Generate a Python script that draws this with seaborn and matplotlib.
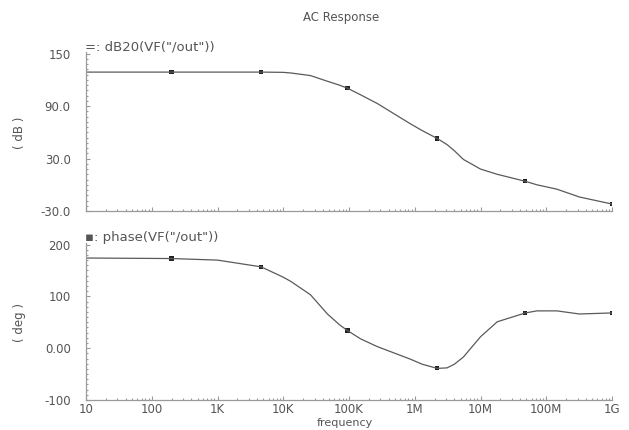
import numpy as np
import pandas as pd
import matplotlib
matplotlib.use('Agg')
import matplotlib.pyplot as plt
import matplotlib.ticker as mticker
import seaborn as sns

# values
freq = [10, 200, 1e3, 4.6e3, 1e4, 1.3e4, 2.6e4, 4.7e4, 7.2e4, 9.5e4, 1.5e5, 2.7e5,
        8.5e5, 1.3e6, 2.2e6, 3.1e6, 4e6, 5.5e6, 1e7, 1.8e7, 4.8e7, 7.2e7, 1.45e8,
        3.2e8, 1e9]
gain_db = [129, 129, 129, 129, 128.7, 128, 125, 118.5, 114, 110.5, 103, 93,
           70, 62, 53, 46, 39, 29, 18, 12, 4, 0, -5, -14, -22]
phase_deg = [174, 173, 170, 157, 137, 129, 103, 66, 45, 34, 18, 3,
             -21, -31, -39, -38, -31, -17, 22, 51, 68, 72, 72, 66, 68]
marker_freq = [200, 4.6e3, 9.5e4, 2.2e6, 4.8e7, 1e9]

db_ticks = [150, 90, 30, -30]
db_labels = ['150', '90.0', '30.0', '-30.0']
deg_ticks = [200, 100, 0, -100]
deg_labels = ['200', '100', '0.00', '-100']
x_ticks = [10, 100, 1e3, 1e4, 1e5, 1e6, 1e7, 1e8, 1e9]
x_labels = ['10', '100', '1K', '10K', '100K', '1M', '10M', '100M', '1G']

df = pd.DataFrame({'freq': freq, 'gain': gain_db, 'phase': phase_deg})
df_mark = df[df['freq'].isin(marker_freq)]

sns.set_style('white')
plt.rcParams['font.family'] = ['DejaVu Sans']

text_col = '#555555'
line_col = '#5a5a5a'
axis_col = '#9a9a9a'
fs = 8.5

W, H = 629, 430
fig = plt.figure(figsize=(W / 100, H / 100), dpi=100)
ax1 = fig.add_axes([86 / W, 1 - 211 / H, 526 / W, 159 / H])
ax2 = fig.add_axes([86 / W, 1 - 400 / H, 526 / W, 157 / H])


def style_axis(ax, yticks, ylabels, ylim, minor_step, show_x):
    ax.set_xscale('log')
    ax.set_xlim(10, 1e9)
    ax.set_ylim(*ylim)
    for side in ['top', 'right']:
        ax.spines[side].set_visible(False)
    for side in ['left', 'bottom']:
        ax.spines[side].set_color(axis_col)
        ax.spines[side].set_linewidth(0.9)
    ax.set_yticks(yticks, ylabels)
    ax.yaxis.set_minor_locator(mticker.MultipleLocator(minor_step))
    ax.set_xticks(x_ticks, x_labels if show_x else [])
    ax.xaxis.set_minor_locator(mticker.LogLocator(base=10, subs=np.arange(2, 10)))
    ax.xaxis.set_minor_formatter(mticker.NullFormatter())
    ax.tick_params(which='both', direction='in', color=axis_col, width=0.8,
                   left=True, bottom=True, top=False, right=False,
                   labelcolor=text_col, labelsize=fs)
    ax.tick_params(which='major', length=3)
    ax.tick_params(which='minor', length=1.5)
    ax.tick_params(axis='y', which='major', pad=11)
    ax.tick_params(axis='x', which='major', pad=2)
    ax.set_xlabel('')
    ax.set_ylabel('')


sns.lineplot(data=df, x='freq', y='gain', ax=ax1, color=line_col, linewidth=0.9)
sns.scatterplot(data=df_mark, x='freq', y='gain', ax=ax1, marker='s', s=9,
                color='#222222', edgecolor='none')
style_axis(ax1, db_ticks, db_labels, (-30, 152), 6, False)

sns.lineplot(data=df, x='freq', y='phase', ax=ax2, color=line_col, linewidth=0.9)
sns.scatterplot(data=df_mark, x='freq', y='phase', ax=ax2, marker='s', s=9,
                color='#222222', edgecolor='none')
style_axis(ax2, deg_ticks, deg_labels, (-100, 203), 10, True)

fig.text(341 / W, 1 - 18 / H, 'AC Response', ha='center', va='center',
         fontsize=fs, color=text_col)
fig.text(85 / W, 1 - 47 / H, '=: dB20(VF("/out"))', ha='left', va='center',
         fontsize=9.5, color=text_col)
fig.text(85 / W, 1 - 238 / H, '▪: phase(VF("/out"))', ha='left', va='center',
         fontsize=9.5, color=text_col)
fig.text(20 / W, 1 - 133 / H, '( dB )', rotation=90, ha='center', va='center',
         fontsize=fs, color=text_col)
fig.text(20 / W, 1 - 323 / H, '( deg )', rotation=90, ha='center', va='center',
         fontsize=fs, color=text_col)
fig.text(345 / W, 1 - 423 / H, 'frequency', ha='center', va='center',
         fontsize=8, color=text_col)

fig.savefig('out.png', dpi=100, facecolor='white')
